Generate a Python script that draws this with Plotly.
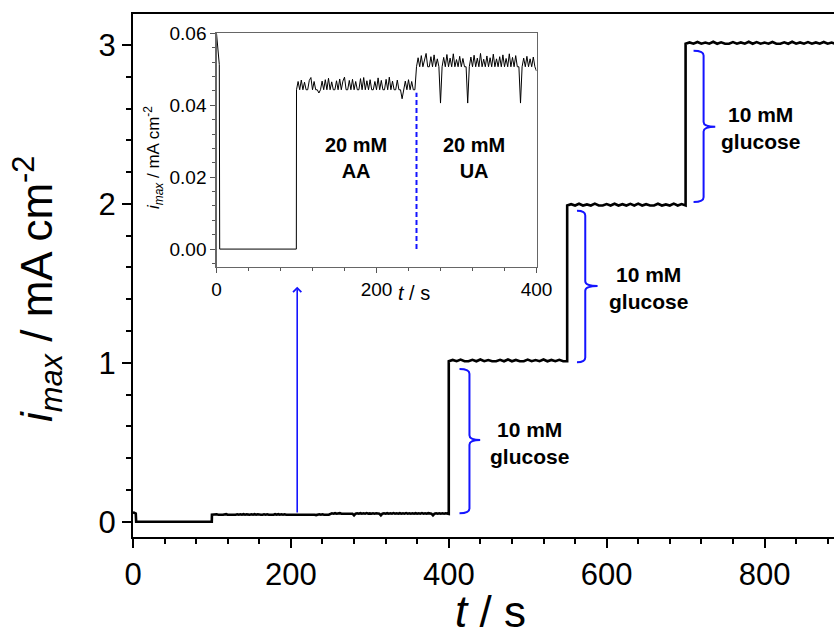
import numpy as np
import plotly.graph_objects as go

# ---------------- data ----------------
# start of the record (s, mA cm^-2)
t_start = [0.0, 3.5, 4.0, 99.8]
i_start = [0.060, 0.0513, 0.0, 0.0]

# after 20 mM AA (t = 100 ... 248 s, every 2 s)
t_aa = list(range(100, 249, 2))
i_aa = [0.0443, 0.0466, 0.0443, 0.0470, 0.0443, 0.0464, 0.0443, 0.0443, 0.0469, 0.0477,
        0.0443, 0.0466, 0.0443, 0.0443, 0.0434, 0.0443, 0.0467, 0.0443, 0.0471, 0.0443,
        0.0475, 0.0443, 0.0465, 0.0443, 0.0443, 0.0468, 0.0443, 0.0473, 0.0443, 0.0467,
        0.0478, 0.0443, 0.0443, 0.0469, 0.0443, 0.0472, 0.0443, 0.0466, 0.0443, 0.0443,
        0.0474, 0.0443, 0.0477, 0.0443, 0.0468, 0.0443, 0.0471, 0.0443, 0.0443, 0.0466,
        0.0443, 0.0476, 0.0443, 0.0469, 0.0443, 0.0443, 0.0472, 0.0443, 0.0478, 0.0443,
        0.0467, 0.0443, 0.0443, 0.0470, 0.0443, 0.0443, 0.0418, 0.0443, 0.0467, 0.0443,
        0.0471, 0.0443, 0.0466, 0.0443, 0.0443]

# after 20 mM UA (t = 250 ... 400 s, every 2 s)
t_ua = list(range(250, 401, 2))
i_ua = [0.0507, 0.0532, 0.0507, 0.0538, 0.0507, 0.0530, 0.0544, 0.0507, 0.0507, 0.0535,
        0.0507, 0.0540, 0.0507, 0.0529, 0.0507, 0.0406, 0.0507, 0.0533, 0.0507, 0.0541,
        0.0507, 0.0531, 0.0507, 0.0543, 0.0507, 0.0527, 0.0507, 0.0536, 0.0507, 0.0530,
        0.0507, 0.0507, 0.0406, 0.0507, 0.0534, 0.0507, 0.0539, 0.0507, 0.0531, 0.0507,
        0.0544, 0.0507, 0.0528, 0.0507, 0.0537, 0.0507, 0.0532, 0.0507, 0.0542, 0.0507,
        0.0529, 0.0507, 0.0535, 0.0507, 0.0540, 0.0507, 0.0530, 0.0507, 0.0543, 0.0507,
        0.0533, 0.0507, 0.0538, 0.0507, 0.0507, 0.0406, 0.0507, 0.0531, 0.0507, 0.0536,
        0.0507, 0.0529, 0.0507, 0.0534, 0.0507, 0.0495]

# glucose additions (every 5 s)
t_g1 = list(range(400, 551, 5))
i_g1 = [1.010, 1.018, 1.010, 1.020, 1.010, 1.010, 1.019, 1.010, 1.021, 1.010, 1.017,
        1.010, 1.010, 1.019, 1.010, 1.021, 1.010, 1.018, 1.010, 1.010, 1.020, 1.010,
        1.017, 1.010, 1.021, 1.010, 1.018, 1.010, 1.019, 1.010, 1.010]
t_g2 = list(range(550, 701, 5))
i_g2 = [1.990, 1.998, 1.990, 2.001, 1.990, 1.997, 1.990, 2.002, 1.990, 1.990, 1.999,
        1.990, 2.001, 1.990, 1.998, 1.990, 2.000, 1.990, 2.002, 1.990, 1.998, 1.990,
        1.990, 2.001, 1.990, 1.997, 1.990, 2.002, 1.990, 1.999, 1.990]
t_g3 = list(range(700, 891, 5))
i_g3 = [3.008, 3.016, 3.008, 3.019, 3.008, 3.015, 3.008, 3.020, 3.008, 3.017, 3.008,
        3.008, 3.018, 3.008, 3.016, 3.008, 3.020, 3.008, 3.018, 3.008, 3.015, 3.008,
        3.019, 3.008, 3.008, 3.017, 3.008, 3.020, 3.008, 3.016, 3.008, 3.018, 3.008,
        3.016, 3.008, 3.019, 3.008, 3.015, 3.008]

x_ticks_main = [0, 200, 400, 600, 800]
y_ticks_main = [0, 1, 2, 3]
x_ticks_inset = [0, 200, 400]
y_ticks_inset = [0.00, 0.02, 0.04, 0.06]

glucose_label = "10 mM<br>glucose"
aa_label = "20 mM<br>AA"
ua_label = "20 mM<br>UA"

# ---------------- figure ----------------
t_inset = t_start + t_aa + t_ua
i_inset = i_start + i_aa + i_ua
t_main = t_inset + t_g1 + t_g2 + t_g3
i_main = i_inset + i_g1 + i_g2 + i_g3

FONT = "Liberation Sans, Arial, sans-serif"
BLUE = "rgb(20,20,255)"

fig = go.Figure()
fig.add_trace(go.Scatter(x=t_main, y=i_main, mode="lines",
                         line=dict(color="black", width=2.6), xaxis="x", yaxis="y",
                         showlegend=False, hoverinfo="skip"))
fig.add_trace(go.Scatter(x=t_inset, y=i_inset, mode="lines",
                         line=dict(color="black", width=1), xaxis="x2", yaxis="y2",
                         showlegend=False, hoverinfo="skip"))

W, H = 834, 636
ml, mr, mt, mb = 133, 0, 14, 99
pw, ph = W - ml - mr, H - mt - mb

def px_x(p):
    return (p - ml) / pw

def px_y(p):
    return (H - mb - p) / ph

fig.update_layout(
    template="none",
    width=W, height=H, autosize=False, showlegend=False,
    margin=dict(l=ml, r=mr, t=mt, b=mb, pad=0, autoexpand=False),
    paper_bgcolor="white", plot_bgcolor="white",
    font=dict(family=FONT, color="black"),
    xaxis=dict(range=[0, 888], domain=[0, 1], tickvals=x_ticks_main, automargin=False,
               ticks="outside", ticklen=9, tickwidth=2, tickcolor="black",
               showline=True, linewidth=2, linecolor="black", mirror=True,
               showgrid=False, zeroline=False,
               tickfont=dict(size=31, family=FONT),
               minor=dict(dtick=40, ticks="outside", ticklen=5, tickwidth=2, tickcolor="black")),
    yaxis=dict(range=[-0.096, 3.195], domain=[0, 1], tickvals=y_ticks_main, automargin=False,
               ticks="outside", ticklen=9, tickwidth=2, tickcolor="black",
               showline=True, linewidth=2, linecolor="black",
               showgrid=False, zeroline=False,
               tickfont=dict(size=31, family=FONT),
               minor=dict(dtick=0.2, tick0=0, ticks="outside", ticklen=5, tickwidth=2, tickcolor="black")),
    xaxis2=dict(range=[0, 400], domain=[px_x(216.5), px_x(536.5)], anchor="y2", automargin=False,
                tickvals=x_ticks_inset, ticks="outside", ticklen=5, tickwidth=1,
                tickcolor="#555", showline=True, linewidth=1.2, linecolor="#666",
                mirror=True, showgrid=False, zeroline=False,
                tickfont=dict(size=19, family=FONT),
                minor=dict(dtick=40, ticks="outside", ticklen=3, tickwidth=1, tickcolor="#555")),
    yaxis2=dict(range=[-0.0049, 0.06], domain=[px_y(266.7), px_y(33.3)], anchor="x2", automargin=False,
                tickvals=y_ticks_inset, tickformat=".2f", ticks="outside", ticklen=5,
                tickwidth=1, tickcolor="#555", showline=True, linewidth=1.2,
                linecolor="#666", mirror=True, showgrid=False, zeroline=False,
                tickfont=dict(size=19, family=FONT),
                minor=dict(dtick=0.004, tick0=0, ticks="outside", ticklen=3, tickwidth=1, tickcolor="#555")),
)

# brackets (curly-brace style) in main-axis data coordinates
def bracket(xh, xv, xt, yb, ym, yt):
    dy = 0.03
    d = (f"M{xh},{yt} Q{xv},{yt} {xv},{yt-dy} "
         f"L{xv},{ym+dy} Q{xv},{ym} {xt},{ym} "
         f"Q{xv},{ym} {xv},{ym-dy} "
         f"L{xv},{yb+dy} Q{xv},{yb} {xh},{yb}")
    return dict(type="path", path=d, xref="x", yref="y",
                line=dict(color=BLUE, width=2))

shapes = [
    bracket(413.6, 426.2, 439.8, 0.053, 0.514, 0.961),
    bracket(562.4, 572.9, 588.5, 1.003, 1.483, 1.957),
    bracket(710.1, 722.8, 737.6, 2.012, 2.486, 2.964),
    dict(type="line", xref="x2", yref="y2", x0=250, x1=250, y0=0.0, y1=0.0435,
         line=dict(color=BLUE, width=2, dash="5px,3px")),
]
fig.update_layout(shapes=shapes)

annotations = [
    # arrow from the main trace up to the inset
    dict(x=208, y=1.479, ax=208, ay=0.048, xref="x", yref="y", axref="x", ayref="y",
         showarrow=True, arrowhead=4, arrowsize=1.0, arrowwidth=1.6, arrowcolor=BLUE, text=""),
    dict(x=501.9, y=0.495, xref="x", yref="y", text=glucose_label, showarrow=False,
         font=dict(size=21, family=FONT, color="black", weight="bold"), align="center"),
    dict(x=652.7, y=1.471, xref="x", yref="y", text=glucose_label, showarrow=False,
         font=dict(size=21, family=FONT, color="black", weight="bold"), align="center"),
    dict(x=794.7, y=2.478, xref="x", yref="y", text=glucose_label, showarrow=False,
         font=dict(size=21, family=FONT, color="black", weight="bold"), align="center"),
    dict(x=174, y=0.0253, xref="x2", yref="y2", text=aa_label, showarrow=False,
         font=dict(size=20, family=FONT, color="black", weight="bold"), align="center"),
    dict(x=322, y=0.0253, xref="x2", yref="y2", text=ua_label, showarrow=False,
         font=dict(size=20, family=FONT, color="black", weight="bold"), align="center"),
    # axis titles
    dict(x=px_x(37), y=px_y(289), xref="paper", yref="paper", textangle=-90,
         text="<i>i</i><sub><i>max</i></sub> / mA cm<sup>-2</sup>", showarrow=False,
         font=dict(size=44, family=FONT, color="black"), xanchor="center", yanchor="middle"),
    dict(x=px_x(490), y=px_y(611), xref="paper", yref="paper",
         text="<i>t</i> / s", showarrow=False,
         font=dict(size=44, family=FONT, color="black"), xanchor="center", yanchor="middle"),
    dict(x=px_x(153), y=px_y(158), xref="paper", yref="paper", textangle=-90,
         text="<i>i</i><sub><i>max</i></sub> / mA cm<sup>-2</sup>", showarrow=False,
         font=dict(size=17, family=FONT, color="black"), xanchor="center", yanchor="middle"),
    dict(x=px_x(414), y=px_y(293), xref="paper", yref="paper",
         text="<i>t</i> / s", showarrow=False,
         font=dict(size=20, family=FONT, color="black"), xanchor="center", yanchor="middle"),
]
fig.update_layout(annotations=annotations)

fig.write_html("out.html",
               config={"responsive": False, "displayModeBar": False, "staticPlot": True},
               default_width="834px", default_height="636px",
               post_script="document.body.style.margin='0';document.body.style.overflow='hidden';")
